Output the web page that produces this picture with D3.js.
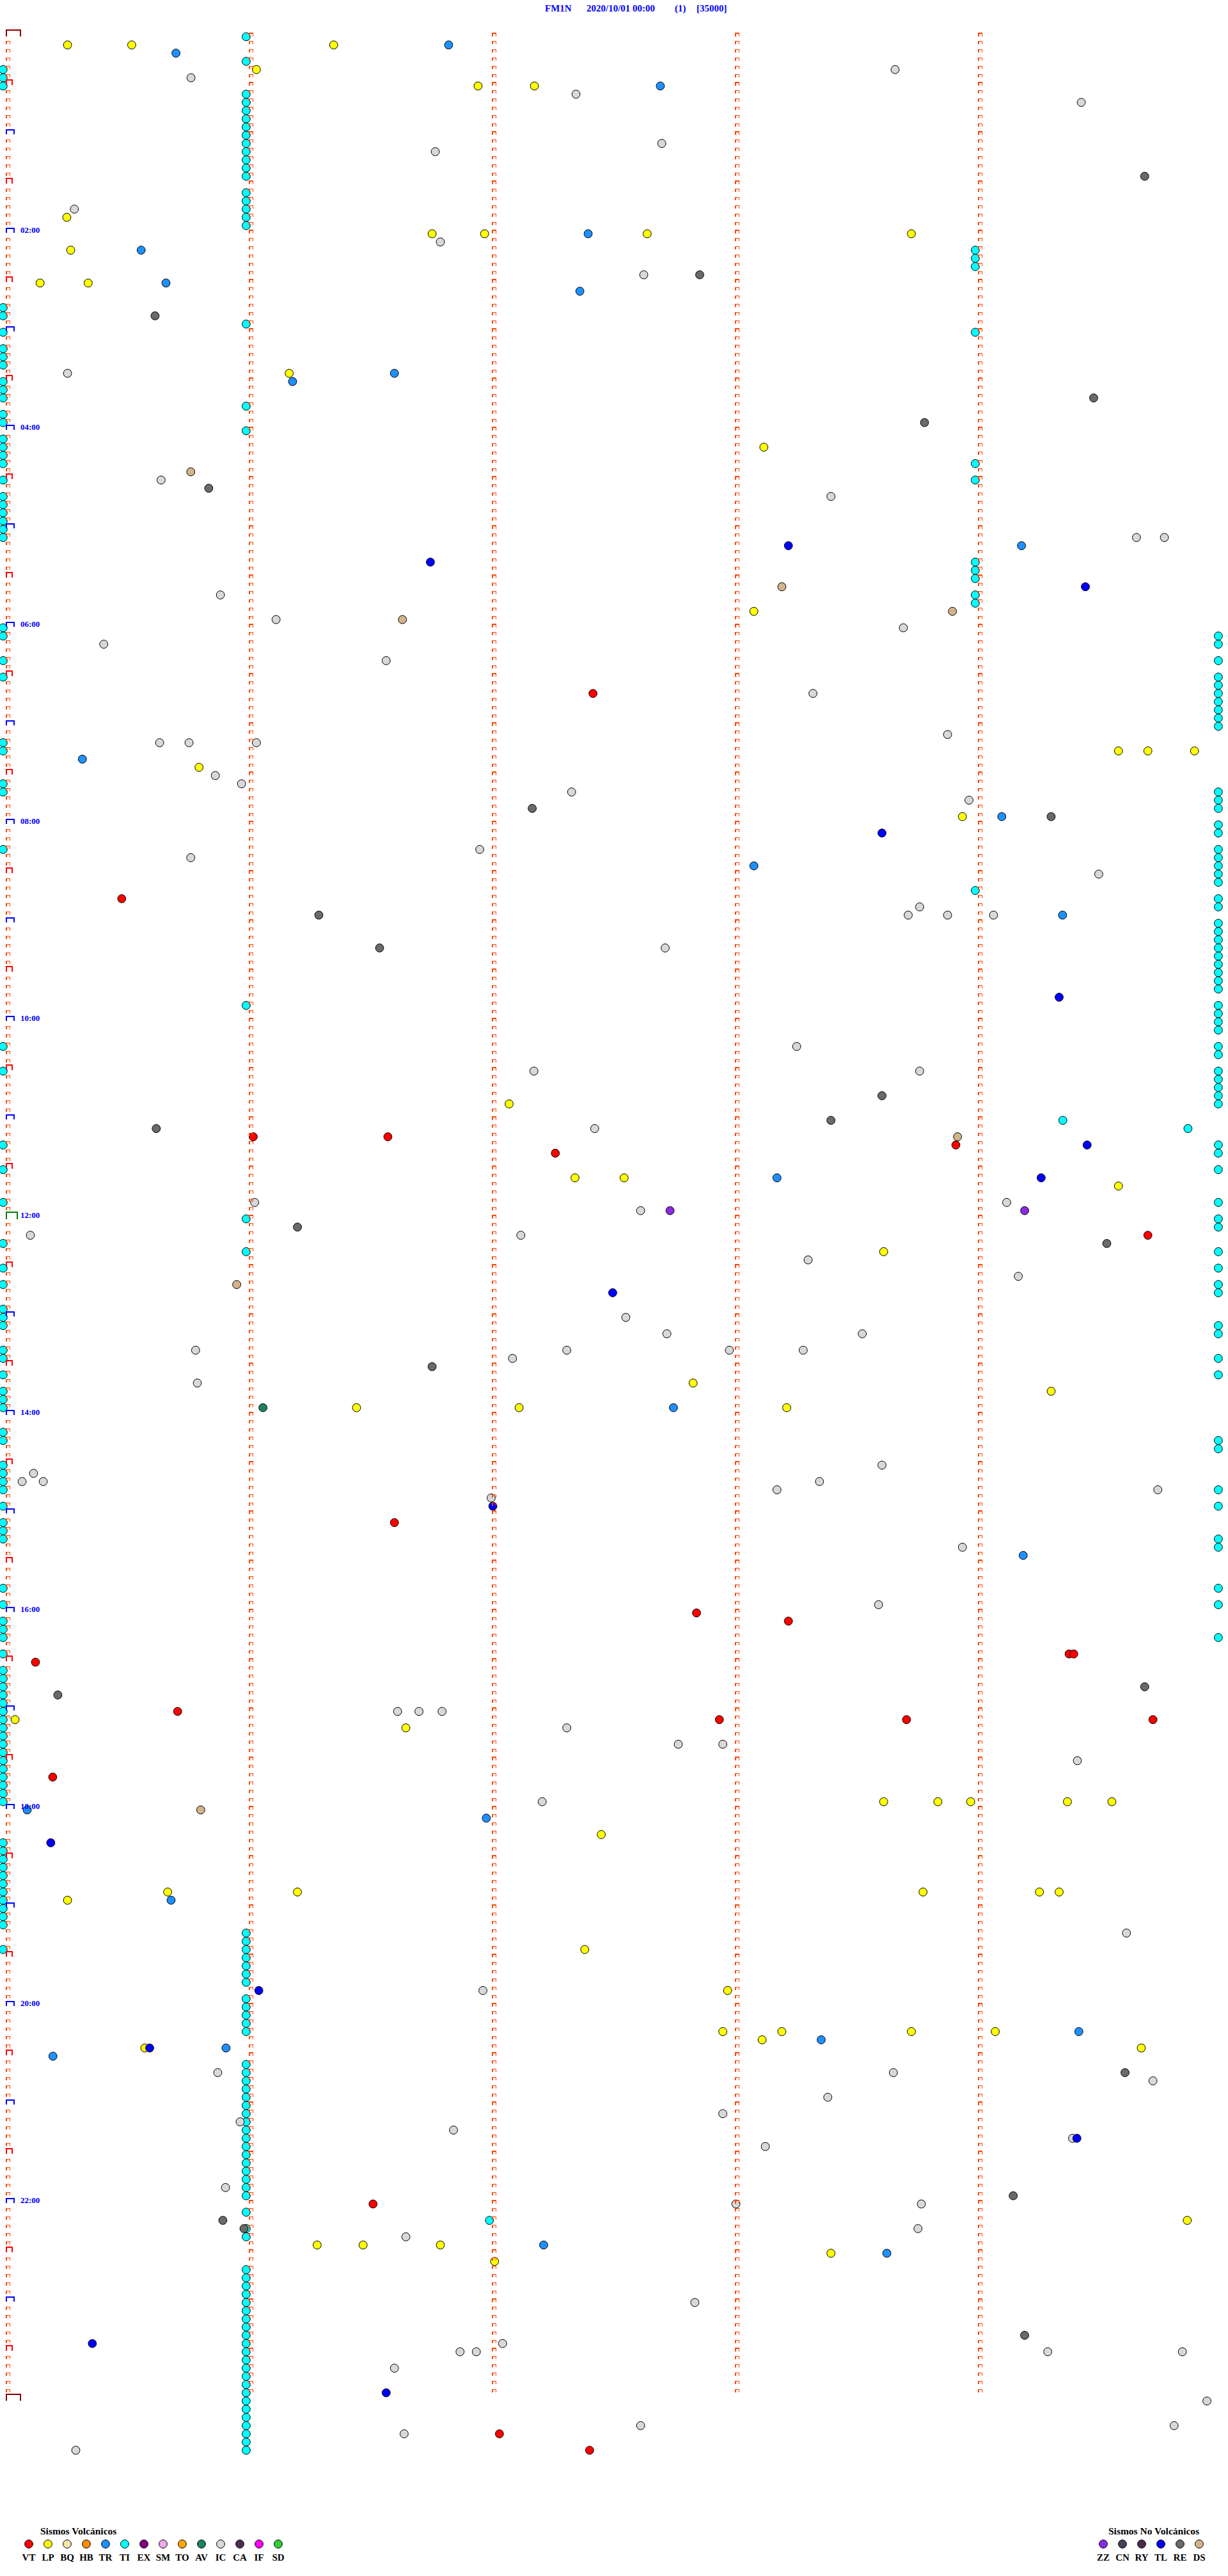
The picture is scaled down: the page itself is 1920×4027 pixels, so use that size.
<!DOCTYPE html>
<html><head><meta charset="utf-8">
<script src="https://cdn.jsdelivr.net/npm/d3@7"></script>
<style>body{margin:0;background:#fff}svg{display:block}</style>
</head><body><script>
const W = 1920, H = 4027;
const serif = "'Liberation Serif','Times New Roman','DejaVu Serif',serif";

const titleParts = ["FM1N", "2020/10/01 00:00", "(1)", "[35000]"];
const volcTypes  = ["VT","LP","BQ","HB","TR","TI","EX","SM","TO","AV","IC","CA","IF","SD"];
const volcColors = ["#ff0000","#ffff00","#eee8aa","#ff8c00","#1e90ff","#00ffff","#800080","#eeaaee","#ffa500","#1f7f66","#d8d8d8","#4a3050","#ff00ff","#33cc33"];
const noVolcTypes  = ["ZZ","CN","RY","TL","RE","DS"];
const noVolcColors = ["#8a2be2","#4a3d60","#4b2a4b","#0000ff","#6a6a6a","#d2b48c"];
const columns = [0, 100, 200, 300, 400];          // trace columns (x value)
const hourLabels = ["02:00","04:00","06:00","08:00","10:00","12:00","14:00","16:00","18:00","20:00","22:00"];

// events: [minute of day (5-min bin), x value]
const VT = [[400,240.7],[525,46.8],[670,100.9],[670,156.3],[675,390],[680,225.2],[730,469],[905,159],[960,283.3],[965,321.1],[985,436.6],[985,438.5],[990,11.3],[1020,69.8],[1025,292.7],[1025,369.7],[1025,471.1],[1060,18.4],[1320,150.2],[1460,202.2],[1470,239.3]];
const LP = [[5,24.5],[5,50.9],[5,134],[20,102.2],[30,193.4],[30,216.6],[110,24.2],[120,174.5],[120,196.1],[120,263],[120,371.7],[130,25.8],[150,13.2],[150,33],[205,115.7],[250,311],[350,306.9],[435,456.9],[435,469],[435,488.2],[445,78.6],[475,392.7],[650,206.2],[695,233.3],[695,253.5],[700,456.9],[740,360.3],[820,281.9],[825,429.2],[835,143.4],[835,210.3],[835,320.4],[1025,2.9],[1030,163.7],[1075,360.3],[1075,382.6],[1075,396.1],[1075,435.9],[1075,454.2],[1095,244.1],[1130,65.7],[1130,119.1],[1130,376.5],[1130,424.4],[1130,432.5],[1135,24.5],[1165,237.3],[1190,296.1],[1215,294.1],[1215,318.4],[1215,371.7],[1215,406.2],[1220,310.3],[1225,56.3],[1225,466.3],[1330,485.2],[1345,127.2],[1345,146.1],[1345,177.9],[1350,338.6],[1355,200.2]];
const TR = [[10,69.1],[5,181.3],[30,268.4],[120,238.7],[130,54.8],[150,65],[155,235.3],[210,117.1],[205,159],[310,417],[440,30.6],[475,408.9],[505,306.9],[535,433.9],[695,316.4],[835,273.8],[925,417.7],[1080,7.9],[1085,196.8],[1135,67.1],[1215,440.6],[1220,334.6],[1225,89.7],[1230,18.5],[1345,220.4],[1350,361.6]];
const TI_left  = [20,25,30,165,170,180,190,195,200,210,215,220,230,235,245,250,255,260,270,280,285,290,295,300,305,360,365,380,390,430,435,455,460,495,615,630,675,690,710,735,750,760,775,780,785,800,805,815,825,830,835,850,855,870,875,880,885,895,905,910,915,945,955,965,970,975,985,995,1000,1005,1010,1015,1020,1025,1030,1035,1040,1045,1050,1055,1060,1065,1070,1075,1100,1105,1110,1115,1120,1125,1130,1135,1140,1145,1150,1165];
const TI_col2  = [0,15,35,40,45,50,55,60,65,70,75,80,85,95,100,105,110,115,175,225,240,590,720,740,1155,1160,1165,1170,1175,1180,1185,1195,1200,1205,1210,1215,1235,1240,1245,1250,1255,1260,1265,1270,1275,1280,1285,1290,1295,1300,1305,1310,1315,1325,1335,1340,1360,1365,1370,1375,1380,1385,1390,1395,1400,1405,1410,1415,1420,1425,1430,1435,1440,1445,1450,1455,1460,1465,1470];
const TI_col5  = [130,135,140,180,260,270,320,325,330,340,345,520];
const TI_right = [365,370,380,390,395,400,405,410,415,420,460,465,470,480,485,495,500,505,510,515,525,530,540,545,550,555,560,565,570,575,580,590,595,600,605,615,620,630,635,640,645,650,675,680,690,710,720,725,740,750,760,765,785,790,805,815,855,860,885,895,915,920,945,955,975];
const TI_xs = [-2, 98, 398, 498];
const TI_other = [[660,434],[665,485.5],[1330,198.1]];
const IC = [[25,75.3],[20,365],[35,233.7],[40,441.6],[70,175.8],[65,269],[105,27.3],[125,177.9],[145,261.6],[205,24.5],[270,63],[280,338.6],[305,464.3],[305,475.8],[340,87.4],[355,110.3],[360,368.4],[370,39.4],[380,155.6],[400,331.2],[425,386.6],[430,62.4],[430,74.5],[430,102.2],[450,85.3],[455,96.1],[460,231.9],[465,395.4],[495,194.1],[500,75.2],[510,448.8],[530,375.1],[535,370.4],[535,386.6],[535,405.5],[555,270.4],[615,324.5],[630,216.4],[630,375.1],[665,241.4],[710,410.9],[710,101.5],[715,260.3],[730,211],[730,9.2],[745,329.2],[755,415.7],[780,254.2],[790,271.1],[790,351.5],[800,77.2],[800,229.9],[800,296.8],[800,327.2],[805,207.6],[820,77.9],[870,359.6],[875,10.5],[880,5.8],[880,14.5],[880,333.9],[885,316.4],[885,473.1],[890,198.8],[920,392.7],[955,358.2],[1020,160.3],[1020,169.1],[1020,178.6],[1030,229.9],[1040,275.8],[1040,294.1],[1050,440],[1075,219.8],[1155,460.2],[1190,195.4],[1240,86.3],[1240,364.3],[1245,471.1],[1255,337.3],[1265,294.1],[1270,95.5],[1275,183.3],[1280,438],[1285,311.6],[1310,89.5],[1320,299.5],[1320,375.8],[1335,374.4],[1340,163.7],[1380,282.6],[1405,203.5],[1410,186],[1410,192.7],[1410,427.8],[1410,483.2],[1420,159],[1440,493.3],[1455,260.3],[1455,479.8],[1460,163],[1470,27.9]];
const AV = [[835,104.9]];
const ZZ = [[715,418.3],[715,272.4]];
const TL = [[310,321.1],[320,173.8],[335,443.3],[485,359.6],[585,432.5],[675,444],[695,425.1],[765,248.8],[895,199.5],[1100,17.6],[1190,103.2],[1225,58.3],[1280,439.8],[1405,34.7],[1435,155.6]];
const RE = [[85,467.7],[145,284.6],[170,60.5],[220,446.7],[235,377.1],[275,82.6],[470,215.7],[475,429.2],[535,127.9],[555,152.9],[645,359.6],[660,338.6],[665,61],[725,119.1],[735,452.1],[810,174.5],[1005,467.7],[1010,20.5],[1240,459.6],[1315,413.6],[1330,88.4],[1335,97.1],[1400,418.3]];
const DS = [[265,75.2],[335,318.4],[350,388.6],[355,162.3],[670,390.7],[760,94.1],[1080,79.3]];

const colorOf = {};
volcTypes.forEach((t,i)=>colorOf[t]=volcColors[i]);
noVolcTypes.forEach((t,i)=>colorOf[t]=noVolcColors[i]);

const events = [];
const addPairs = (type, arr) => arr.forEach(([t,v]) => events.push({type, t, v}));
[TI_left, TI_col2, TI_col5, TI_right].forEach((times, i) => times.forEach(t => events.push({type:"TI", t, v:TI_xs[i]})));
addPairs("TI", TI_other);
addPairs("IC", IC); addPairs("RE", RE); addPairs("DS", DS);
addPairs("LP", LP); addPairs("TR", TR); addPairs("TL", TL);
addPairs("VT", VT); addPairs("ZZ", ZZ); addPairs("AV", AV);

const x = d3.scaleLinear().domain([0, 500]).range([12.5, 1912.5]);
const y = d3.scaleLinear().domain([0, 1440]).range([51, 3747]);

const svg = d3.select("body").append("svg").attr("width", W).attr("height", H)
  .style("background", "#fff");

// title
const title = svg.append("text").attr("y", 18).attr("fill", "#0000ff")
  .attr("font-family", serif).attr("font-weight", "bold").attr("font-size", 15);
const titleX = [852, 917, 1055, 1089];
titleParts.forEach((p, i) => title.append("tspan").attr("x", titleX[i]).text(p));

// events
const gEv = svg.append("g");
gEv.selectAll("circle").data(events).join("circle")
  .attr("cx", d => x(d.v)).attr("cy", d => y(d.t + 2.5)).attr("r", 6.4)
  .attr("fill", d => colorOf[d.type]).attr("stroke", "#000").attr("stroke-width", 1);

// trace columns with 5-minute marks
const gM = svg.append("g").attr("fill", "none");
const ticks = d3.range(0, 1441, 5);
function mark(cx, yy, w, top, bot, color, sw) {
  const x0 = cx - 2.5;
  gM.append("path").attr("d", `M${x0},${yy+bot}V${yy+top}H${x0+w}V${yy+bot}`)
    .attr("stroke", color).attr("stroke-width", sw).attr("shape-rendering", "crispEdges");
}
columns.forEach((c, ci) => {
  const cx = x(c);
  ticks.forEach(t => {
    const yy = y(t);
    if (ci === 0) {
      if (t === 0 || t === 1440) mark(cx, yy, 22, -4, 6, "#8b0000", 2);
      else if (t === 720) mark(cx, yy, 17, -4, 7, "#008000", 2);
      else if (t % 60 === 0) mark(cx, yy, 12, -2, 5, "#0000ff", 2);
      else if (t % 30 === 0) mark(cx, yy, 9, -3, 5, "#ff0000", 1.2);
      else mark(cx, yy, 5.5, 1, 5.5, "#ff4500", 1.2);
    } else if (t < 1440) {
      mark(cx, yy, 5.5, 1, 5.5, "#ff4500", 1.2);
    }
  });
});

// hour labels
svg.append("g").selectAll("text").data(hourLabels).join("text")
  .attr("x", 32).attr("y", d => y(+d.slice(0,2) * 60) + 4.5)
  .attr("fill", "#0000ff").attr("font-family", serif).attr("font-weight", "bold")
  .attr("font-size", 13).text(d => d);

// legends
function legend(types, colors, x0, titleX, label) {
  const g = svg.append("g").attr("font-family", serif).attr("font-weight", "bold");
  g.append("text").attr("x", titleX).attr("y", 3962).attr("font-size", 15.5).text(label);
  types.forEach((t, i) => {
    const cx = x0 + 30 * i;
    g.append("circle").attr("cx", cx).attr("cy", 3977).attr("r", 6.4)
      .attr("fill", colors[i]).attr("stroke", "#000").attr("stroke-width", 1);
    g.append("text").attr("x", cx).attr("y", 4003).attr("text-anchor", "middle")
      .attr("font-size", 15).text(t);
  });
}
legend(volcTypes, volcColors, 45, 63, "Sismos Volcánicos");
legend(noVolcTypes, noVolcColors, 1725, 1733, "Sismos No Volcánicos");
</script></body></html>
